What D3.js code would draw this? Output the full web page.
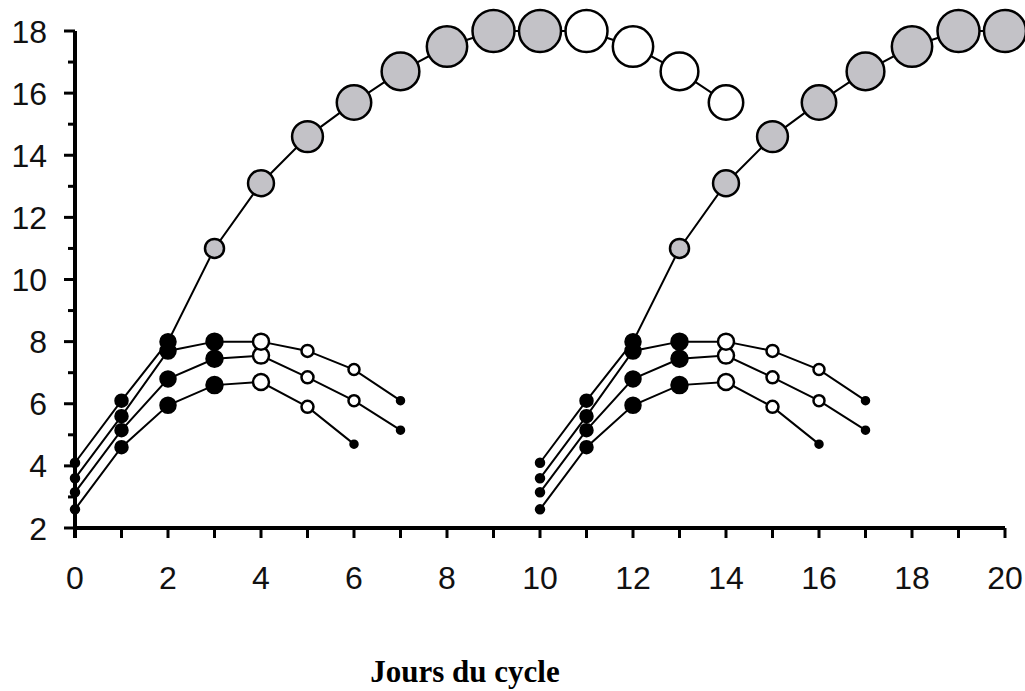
<!DOCTYPE html>
<html>
<head>
<meta charset="utf-8">
<script src="https://cdn.jsdelivr.net/npm/d3@7"></script>
<style>
  body { margin: 0; background: #fff; }
  svg { display: block; }
</style>
</head>
<body>
<div id="chart"></div>
<script>
// jours des deux cycles
var daysA = [0, 1, 2, 3, 4, 5, 6, 7, 8, 9, 10, 11, 12, 13, 14];
var daysB = [10, 11, 12, 13, 14, 15, 16, 17, 18, 19, 20];

// follicule dominant (mm)
var dominantA = [4.1, 6.1, 8.0, 11, 13.1, 14.6, 15.7, 16.7, 17.5, 18, 18, 18, 17.5, 16.7, 15.7];
var dominantB = [4.1, 6.1, 8.0, 11, 13.1, 14.6, 15.7, 16.7, 17.5, 18, 18];

// follicules subordonnés, même valeurs dans les deux cycles
var sub1 = [3.6, 5.6, 7.7, 8.0, 8.0, 7.7, 7.1, 6.1];
var sub2 = [3.15, 5.15, 6.8, 7.45, 7.55, 6.85, 6.1, 5.15];
var sub3 = [2.6, 4.6, 5.95, 6.6, 6.7, 5.9, 4.7];

var xTicks = [0, 2, 4, 6, 8, 10, 12, 14, 16, 18, 20];
var yTicks = [2, 4, 6, 8, 10, 12, 14, 16, 18];

var W = 1025, H = 691;
var svg = d3.select("#chart").append("svg")
  .attr("width", W)
  .attr("height", H);

var x = d3.scaleLinear().domain([0, 20]).range([75, 1005]);
var y = d3.scaleLinear().domain([2, 18]).range([528, 31]);
var rBig = d3.scaleLinear().domain([11, 18]).range([9.5, 21]).clamp(true);

// taille des petits marqueurs selon le jour dans le cycle
var rSmall = [4, 6, 7.5, 8, 8, 6, 5.5, 3.5];

// axes
var ax = svg.append("g").attr("stroke", "#000").attr("stroke-linecap", "butt");
ax.append("line")
  .attr("x1", x(0)).attr("x2", x(20))
  .attr("y1", y(2)).attr("y2", y(2))
  .attr("stroke-width", 4);
ax.append("line")
  .attr("x1", x(0)).attr("x2", x(0))
  .attr("y1", y(18)).attr("y2", y(2) + 10)
  .attr("stroke-width", 4);

// graduations x (chaque jour)
ax.selectAll(".xt").data(d3.range(1, 21))
  .join("line")
  .attr("x1", d => x(d)).attr("x2", d => x(d))
  .attr("y1", y(2)).attr("y2", y(2) + 10)
  .attr("stroke-width", 3);

// graduations y
ax.selectAll(".yt").data(d3.range(2, 19))
  .join("line")
  .attr("x1", d => d % 2 === 0 ? x(0) - 11 : x(0) - 7)
  .attr("x2", x(0))
  .attr("y1", d => y(d)).attr("y2", d => y(d))
  .attr("stroke-width", 3);

svg.append("g").selectAll("text").data(yTicks)
  .join("text")
  .attr("x", 47)
  .attr("y", d => y(d))
  .attr("dy", "0.36em")
  .attr("text-anchor", "end")
  .style("font-family", "Liberation Sans, Arial, sans-serif")
  .style("font-size", "32px")
  .style("fill", "#111")
  .text(d => d);

svg.append("g").selectAll("text").data(xTicks)
  .join("text")
  .attr("x", d => x(d))
  .attr("y", 589)
  .attr("text-anchor", "middle")
  .style("font-family", "Liberation Sans, Arial, sans-serif")
  .style("font-size", "32px")
  .style("fill", "#111")
  .text(d => d);

svg.append("text")
  .attr("x", 465)
  .attr("y", 682)
  .attr("text-anchor", "middle")
  .style("font-family", "Liberation Serif, Times New Roman, serif")
  .style("font-weight", "bold")
  .style("font-size", "31px")
  .text("Jours du cycle");

// construit les points d'une série
function makePts(days, vals, dominant) {
  return vals.map(function(v, i) {
    var p = { day: days[i], v: v, i: i };
    if (dominant) {
      if (i <= 2) { p.fill = "#000"; p.r = rSmall[i]; }
      else if (i <= 10) { p.fill = "#c3c2c7"; p.r = rBig(v); }
      else { p.fill = "#fff"; p.r = rBig(v); }
    } else {
      var last = i === vals.length - 1;
      if (last) { p.fill = "#000"; p.r = 3.5; }
      else if (i <= 3) { p.fill = "#000"; p.r = rSmall[i]; }
      else { p.fill = "#fff"; p.r = rSmall[i]; }
    }
    return p;
  });
}

var series = [
  makePts(daysA, sub3, false),
  makePts(daysA, sub2, false),
  makePts(daysA, sub1, false),
  makePts(daysA, dominantA, true),
  makePts(daysB, sub3, false),
  makePts(daysB, sub2, false),
  makePts(daysB, sub1, false),
  makePts(daysB, dominantB, true)
];

var line = d3.line().x(d => x(d.day)).y(d => y(d.v));

svg.append("g").selectAll("path").data(series)
  .join("path")
  .attr("d", line)
  .attr("fill", "none")
  .attr("stroke", "#000")
  .attr("stroke-width", 2);

series.forEach(function(s) {
  svg.append("g").selectAll("circle").data(s)
    .join("circle")
    .attr("cx", d => x(d.day))
    .attr("cy", d => y(d.v))
    .attr("r", d => d.r)
    .attr("fill", d => d.fill)
    .attr("stroke", "#000")
    .attr("stroke-width", 2.5);
});
</script>
</body>
</html>
